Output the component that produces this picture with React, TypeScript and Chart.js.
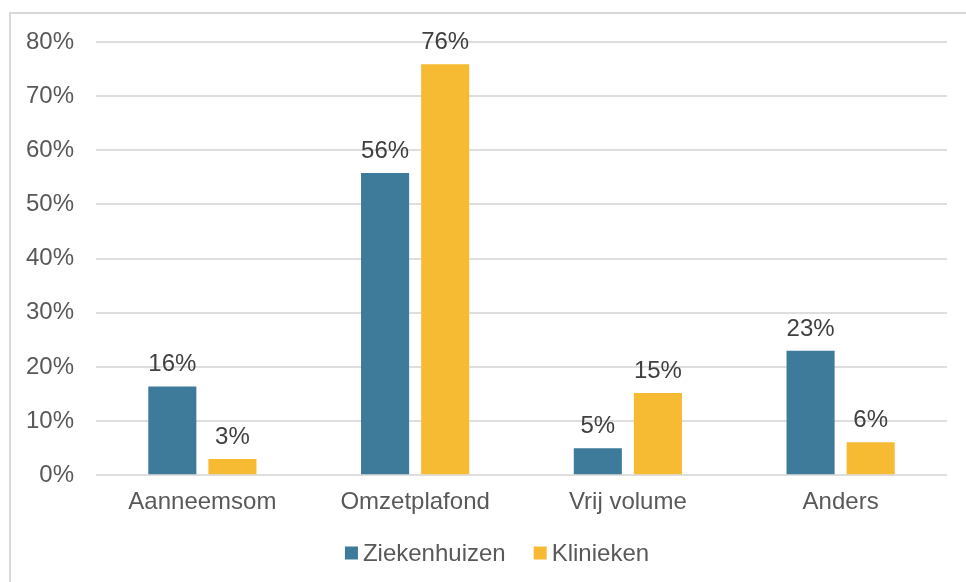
import React, { useEffect, useRef } from "react";
import { Chart, registerables } from "chart.js";

Chart.register(...registerables);

const categories = ["Aanneemsom", "Omzetplafond", "Vrij volume", "Anders"];
const ziekenhuizen = [16.4, 55.8, 5.0, 23.0];
const klinieken = [3.0, 75.9, 15.2, 6.1];
const seriesNames = ["Ziekenhuizen", "Klinieken"];
const seriesColors = ["#3E7A9A", "#F7BA33"];
const yTicks = [0, 10, 20, 30, 40, 50, 60, 70, 80];

const FONT = "'Liberation Sans', Arial, sans-serif";
const TEXT = "#595959";

const framePlugin = {
  id: "frame",
  beforeDraw(chart: any) {
    const ctx = chart.ctx;
    ctx.save();
    ctx.fillStyle = "#FFFFFF";
    ctx.fillRect(0, 0, chart.width, chart.height);
    ctx.fillStyle = "#D9D9D9";
    ctx.fillRect(9, 12, chart.width - 9, 2);
    ctx.fillRect(9, 12, 2, chart.height - 12);
    ctx.restore();
  },
};

const labelPlugin = {
  id: "valueLabels",
  afterDatasetsDraw(chart: any) {
    const ctx = chart.ctx;
    ctx.save();
    ctx.font = `24px ${FONT}`;
    ctx.fillStyle = "#404040";
    ctx.textAlign = "center";
    ctx.textBaseline = "alphabetic";
    chart.data.datasets.forEach((ds: any, di: number) => {
      const meta = chart.getDatasetMeta(di);
      meta.data.forEach((bar: any, i: number) => {
        const v = ds.data[i];
        ctx.fillText(Math.round(v) + "%", bar.x, bar.y - 15);
      });
    });
    ctx.restore();
  },
};

const legendPlugin = {
  id: "customLegend",
  afterDraw(chart: any) {
    const ctx = chart.ctx;
    ctx.save();
    ctx.font = `24px ${FONT}`;
    ctx.textBaseline = "middle";
    ctx.textAlign = "left";
    const box = 13;
    const gap = 5;
    const itemGap = 28;
    const widths = seriesNames.map((n) => ctx.measureText(n).width);
    const total =
      widths.reduce((a, w) => a + box + gap + w, 0) + itemGap * (seriesNames.length - 1);
    let x = 497 - total / 2;
    const cy = 553;
    seriesNames.forEach((n, i) => {
      ctx.fillStyle = seriesColors[i];
      ctx.fillRect(x, cy - box / 2, box, box);
      x += box + gap;
      ctx.fillStyle = TEXT;
      ctx.fillText(n, x, cy + 1);
      x += widths[i] + itemGap;
    });
    ctx.restore();
  },
};

export default function App() {
  const ref = useRef<HTMLCanvasElement | null>(null);

  useEffect(() => {
    if (!ref.current) return;
    const chart = new Chart(ref.current, {
      type: "bar",
      data: {
        labels: categories,
        datasets: [
          {
            label: seriesNames[0],
            data: ziekenhuizen,
            backgroundColor: seriesColors[0],
            categoryPercentage: 0.565,
            barPercentage: 0.8,
          },
          {
            label: seriesNames[1],
            data: klinieken,
            backgroundColor: seriesColors[1],
            categoryPercentage: 0.565,
            barPercentage: 0.8,
          },
        ],
      },
      options: {
        animation: false,
        responsive: false,
        maintainAspectRatio: false,
        layout: { padding: { top: 42, right: 19, bottom: 60, left: 0 } },
        plugins: {
          legend: { display: false },
          tooltip: { enabled: false },
        },
        scales: {
          x: {
            grid: { display: false },
            border: { display: false },
            ticks: {
              color: TEXT,
              font: { size: 24, family: FONT },
              padding: 5,
              maxRotation: 0,
            },
          },
          y: {
            min: 0,
            max: 80,
            afterBuildTicks(scale: any) {
              scale.ticks = yTicks.map((v) => ({ value: v }));
            },
            afterFit(scale: any) {
              scale.width = 96;
            },
            grid: { color: "#DEDEDE", lineWidth: 2, drawTicks: false },
            border: { display: false },
            ticks: {
              color: TEXT,
              font: { size: 24, family: FONT },
              padding: 22,
              callback: (v: any) => v + "%",
            },
          },
        },
      },
      plugins: [framePlugin, labelPlugin, legendPlugin],
    });
    return () => chart.destroy();
  }, []);

  return (
    <div style={{ position: "absolute", left: 0, top: 0, width: 966, height: 582 }}>
      <canvas ref={ref} width={966} height={582} style={{ width: 966, height: 582 }} />
    </div>
  );
}
